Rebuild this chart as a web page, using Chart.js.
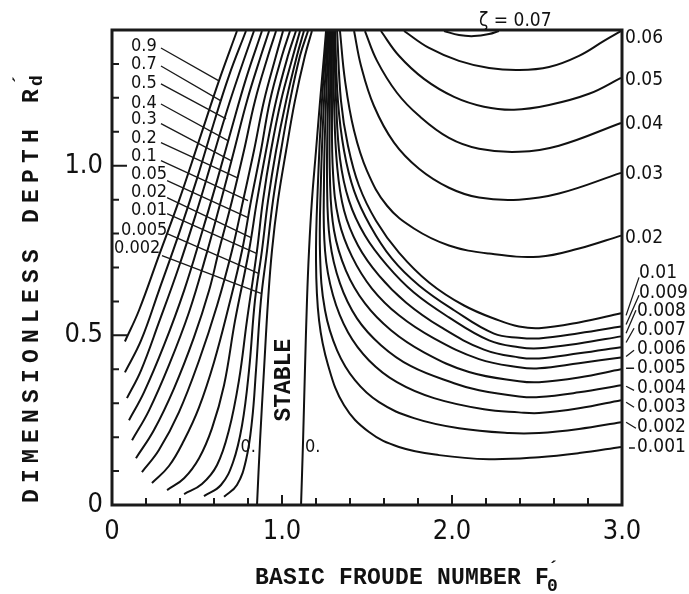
<!DOCTYPE html>
<html>
<head>
<meta charset="utf-8">
<script src="https://cdn.jsdelivr.net/npm/chart.js@4.4.1/dist/chart.umd.min.js"></script>
<style>
  html, body { margin: 0; padding: 0; background: #fff; }
</style>
</head>
<body>
<canvas id="chart" width="689" height="594"></canvas>
<script>
// axis ticks
const xTickValues = [0, 1, 2, 3];
const xTickLabels = ['0', '1.0', '2.0', '3.0'];
const yTickValues = [0, 0.5, 1.0];
const yTickLabels = ['0', '0.5', '1.0'];
const xTickMarks = [0.2, 0.4, 0.6, 0.8, 1.0, 1.2, 1.4, 1.6, 1.8, 2.0, 2.2, 2.4, 2.6, 2.8];
const xMajorMarks = [1.0, 2.0];
const yTickMarks = [0.1, 0.2, 0.3, 0.4, 0.5, 0.6, 0.7, 0.8, 0.9, 1.0, 1.1, 1.2, 1.3];
const yMajorMarks = [0.5, 1.0];

// contour lines, [F0', Rd'] pairs
// left unstable branch
const left_0_9 = [[0.076,0.482],[0.159,0.574],[0.276,0.735],[0.394,0.897],[0.512,1.074],[0.629,1.25],[0.735,1.397]];
const left_0_7 = [[0.076,0.391],[0.171,0.485],[0.276,0.632],[0.394,0.8],[0.5,0.962],[0.594,1.118],[0.688,1.265],[0.788,1.397]];
const left_0_5 = [[0.088,0.315],[0.171,0.397],[0.276,0.538],[0.394,0.703],[0.5,0.868],[0.588,1.015],[0.676,1.162],[0.753,1.279],[0.835,1.397]];
const left_0_4 = [[0.1,0.25],[0.188,0.332],[0.306,0.471],[0.424,0.632],[0.529,0.803],[0.618,0.956],[0.7,1.103],[0.788,1.256],[0.882,1.397]];
const left_0_3 = [[0.118,0.191],[0.218,0.279],[0.335,0.412],[0.453,0.568],[0.553,0.735],[0.641,0.897],[0.718,1.044],[0.794,1.191],[0.876,1.324],[0.924,1.397]];
const left_0_2 = [[0.141,0.138],[0.247,0.221],[0.365,0.344],[0.482,0.494],[0.571,0.632],[0.629,0.75],[0.706,0.897],[0.776,1.044],[0.841,1.191],[0.918,1.324],[0.965,1.397]];
const left_0_1 = [[0.176,0.097],[0.276,0.162],[0.394,0.274],[0.512,0.426],[0.618,0.588],[0.706,0.75],[0.771,0.897],[0.835,1.044],[0.894,1.191],[0.965,1.324],[1.006,1.397]];
const left_0_05 = [[0.235,0.065],[0.335,0.115],[0.424,0.191],[0.512,0.288],[0.6,0.421],[0.688,0.588],[0.765,0.75],[0.818,0.897],[0.876,1.044],[0.929,1.191],[1.0,1.324],[1.047,1.397]];
const left_0_02 = [[0.324,0.044],[0.424,0.079],[0.512,0.138],[0.588,0.226],[0.659,0.353],[0.724,0.544],[0.806,0.75],[0.853,0.897],[0.906,1.044],[0.965,1.191],[1.035,1.324],[1.082,1.397]];
const left_0_01 = [[0.424,0.032],[0.529,0.062],[0.618,0.118],[0.688,0.221],[0.747,0.368],[0.794,0.544],[0.853,0.75],[0.888,0.897],[0.935,1.044],[0.994,1.191],[1.065,1.324],[1.106,1.397]];
const left_0_005 = [[0.541,0.026],[0.641,0.059],[0.712,0.126],[0.765,0.235],[0.806,0.397],[0.841,0.603],[0.882,0.75],[0.918,0.897],[0.965,1.044],[1.024,1.191],[1.088,1.324],[1.129,1.397]];
const left_0_002 = [[0.659,0.024],[0.735,0.059],[0.788,0.132],[0.824,0.25],[0.847,0.397],[0.876,0.603],[0.912,0.75],[0.947,0.897],[0.994,1.044],[1.047,1.191],[1.106,1.324],[1.153,1.397]];
const left_0 = [[0.853,0],[0.871,0.191],[0.894,0.397],[0.918,0.603],[0.941,0.75],[0.976,0.897],[1.024,1.044],[1.076,1.191],[1.135,1.324],[1.176,1.397]];

// right unstable branch
const right_0 = [[1.112,0],[1.124,0.191],[1.135,0.397],[1.147,0.603],[1.159,0.75],[1.176,0.897],[1.2,1.044],[1.224,1.191],[1.247,1.324],[1.259,1.397]];
const right_0_001 = [[1.265,1.397],[1.235,1.191],[1.212,0.956],[1.2,0.721],[1.218,0.544],[1.271,0.412],[1.365,0.294],[1.512,0.215],[1.688,0.171],[1.924,0.147],[2.218,0.135],[2.512,0.141],[2.747,0.153],[2.994,0.171]];
const right_0_002 = [[1.271,1.397],[1.247,1.191],[1.229,0.956],[1.224,0.735],[1.253,0.574],[1.324,0.456],[1.429,0.368],[1.571,0.303],[1.776,0.256],[2.041,0.226],[2.335,0.212],[2.512,0.212],[2.747,0.224],[2.994,0.244]];
const right_0_003 = [[1.276,1.397],[1.259,1.191],[1.247,0.956],[1.253,0.75],[1.3,0.618],[1.388,0.509],[1.512,0.426],[1.676,0.362],[1.894,0.315],[2.188,0.282],[2.394,0.273],[2.512,0.271],[2.747,0.285],[2.994,0.309]];
const right_0_004 = [[1.282,1.397],[1.271,1.191],[1.265,0.956],[1.282,0.779],[1.341,0.653],[1.441,0.55],[1.582,0.471],[1.759,0.409],[2.012,0.359],[2.159,0.338],[2.394,0.32],[2.512,0.318],[2.747,0.332],[2.994,0.353]];
const right_0_005 = [[1.288,1.397],[1.282,1.191],[1.282,0.962],[1.306,0.809],[1.376,0.691],[1.488,0.594],[1.641,0.515],[1.835,0.45],[2.1,0.392],[2.394,0.365],[2.512,0.362],[2.747,0.376],[2.994,0.4]];
const right_0_006 = [[1.294,1.397],[1.294,1.191],[1.3,0.979],[1.335,0.838],[1.412,0.732],[1.529,0.638],[1.688,0.559],[1.894,0.491],[2.159,0.43],[2.394,0.406],[2.512,0.403],[2.747,0.418],[2.994,0.435]];
const right_0_007 = [[1.3,1.397],[1.306,1.191],[1.324,1.0],[1.365,0.868],[1.447,0.765],[1.571,0.676],[1.729,0.597],[1.935,0.524],[2.188,0.458],[2.394,0.435],[2.512,0.432],[2.747,0.447],[2.994,0.465]];
const right_0_008 = [[1.306,1.397],[1.318,1.191],[1.341,1.021],[1.394,0.897],[1.488,0.794],[1.618,0.706],[1.776,0.626],[1.982,0.553],[2.218,0.485],[2.394,0.465],[2.512,0.462],[2.747,0.476],[2.994,0.497]];
const right_0_009 = [[1.312,1.397],[1.329,1.191],[1.365,1.044],[1.424,0.926],[1.518,0.824],[1.647,0.726],[1.806,0.647],[2.012,0.574],[2.247,0.505],[2.394,0.493],[2.512,0.491],[2.747,0.506],[2.994,0.526]];
const right_0_01 = [[1.324,1.397],[1.347,1.191],[1.388,1.059],[1.453,0.941],[1.553,0.838],[1.688,0.744],[1.865,0.656],[2.071,0.588],[2.276,0.544],[2.394,0.526],[2.512,0.521],[2.747,0.538],[2.994,0.565]];
const right_0_02 = [[1.341,1.397],[1.371,1.25],[1.424,1.103],[1.5,0.985],[1.618,0.882],[1.776,0.815],[1.982,0.765],[2.218,0.741],[2.512,0.732],[2.747,0.756],[2.994,0.794]];
const right_0_03 = [[1.424,1.397],[1.465,1.294],[1.541,1.176],[1.659,1.068],[1.806,0.991],[1.982,0.935],[2.159,0.906],[2.394,0.9],[2.629,0.918],[2.994,0.979]];
const right_0_04 = [[1.488,1.397],[1.559,1.309],[1.676,1.215],[1.806,1.147],[1.982,1.082],[2.159,1.05],[2.394,1.041],[2.629,1.059],[2.994,1.126]];
const right_0_05 = [[1.582,1.397],[1.688,1.324],[1.835,1.256],[2.012,1.203],[2.188,1.174],[2.365,1.165],[2.571,1.179],[2.806,1.212],[2.994,1.259]];
const right_0_06 = [[1.718,1.397],[1.865,1.347],[2.041,1.309],[2.218,1.288],[2.394,1.282],[2.571,1.291],[2.747,1.324],[2.894,1.368],[2.994,1.397]];
const right_0_07 = [[1.953,1.397],[2.041,1.385],[2.129,1.382],[2.218,1.388],[2.276,1.397]];

const leftCurves = [left_0_9, left_0_7, left_0_5, left_0_4, left_0_3, left_0_2, left_0_1,
  left_0_05, left_0_02, left_0_01, left_0_005, left_0_002, left_0];
const rightCurves = [right_0, right_0_001, right_0_002, right_0_003, right_0_004, right_0_005,
  right_0_006, right_0_007, right_0_008, right_0_009, right_0_01, right_0_02, right_0_03,
  right_0_04, right_0_05, right_0_06, right_0_07];

// level labels
const leftLabels = ['0.9', '0.7', '0.5', '0.4', '0.3', '0.2', '0.1', '0.05', '0.02', '0.01', '0.005', '0.002'];
const rightLabels = ['0.06', '0.05', '0.04', '0.03', '0.02', '0.01', '0.009', '0.008', '0.007',
  '0.006', '0.005', '0.004', '0.003', '0.002', '0.001'];

// where the labels and their leader lines sit (in axis units)
const leftLabelAt = [[0.112,1.353],[0.112,1.3],[0.112,1.244],[0.112,1.185],[0.112,1.138],[0.112,1.082],
  [0.112,1.029],[0.112,0.976],[0.112,0.921],[0.112,0.868],[0.053,0.809],[0.012,0.756]];
const leftLeaders = [[0.288,1.347,0.629,1.25],[0.288,1.294,0.641,1.191],[0.288,1.241,0.671,1.138],
  [0.288,1.182,0.682,1.074],[0.288,1.124,0.7,1.015],[0.288,1.068,0.735,0.965],[0.288,1.015,0.8,0.897],
  [0.324,0.956,0.8,0.847],[0.324,0.906,0.818,0.788],[0.324,0.859,0.853,0.741],[0.324,0.8,0.865,0.682],
  [0.294,0.735,0.876,0.624]];
const rightLabelAt = [[3.018,1.376],[3.018,1.253],[3.018,1.124],[3.018,0.976],[3.018,0.788],[3.1,0.685],
  [3.1,0.626],[3.088,0.571],[3.088,0.515],[3.088,0.459],[3.088,0.403],[3.088,0.344],[3.088,0.288],
  [3.088,0.229],[3.088,0.171]];
const rightLeaders = [[3.1,0.671,3.024,0.559],[3.1,0.618,3.024,0.532],[3.082,0.574,3.024,0.506],
  [3.071,0.521,3.024,0.479],[3.071,0.456,3.024,0.438],[3.071,0.403,3.024,0.403],[3.071,0.338,3.024,0.35],
  [3.071,0.288,3.024,0.303],[3.082,0.226,3.024,0.244],[3.076,0.168,3.041,0.168]];

var datasets = [];
leftCurves.concat(rightCurves).forEach(function(c) {
  datasets.push({
    data: c.map(function(p) { return {x: p[0], y: p[1]}; }),
    showLine: true,
    borderColor: '#111',
    borderWidth: 2,
    pointRadius: 0,
    tension: 0.4,
    fill: false
  });
});

const numFont = '"DejaVu Sans Condensed", "DejaVu Sans", sans-serif';
const typeFont = '"Liberation Mono", "DejaVu Sans Mono", monospace';

// draws one string letter by letter with a fixed pitch
function spaced(ctx, text, x0, y0, pitch) {
  for (var i = 0; i < text.length; i++) ctx.fillText(text[i], x0 + i * pitch, y0);
  return x0 + text.length * pitch;
}

const extras = {
  id: 'extras',
  afterDatasetsDraw: function(chart) {
    var ctx = chart.ctx, a = chart.chartArea;
    var sx = chart.scales.x, sy = chart.scales.y;
    var px = function(v) { return sx.getPixelForValue(v); };
    var py = function(v) { return sy.getPixelForValue(v); };
    ctx.save();

    // frame
    ctx.strokeStyle = '#1a1a1a';
    ctx.lineWidth = 3;
    ctx.strokeRect(a.left, a.top, a.right - a.left, a.bottom - a.top);

    // inward ticks
    ctx.lineWidth = 2;
    ctx.beginPath();
    xTickMarks.forEach(function(v) {
      var len = xMajorMarks.indexOf(v) >= 0 ? 10 : 7;
      ctx.moveTo(px(v), a.bottom); ctx.lineTo(px(v), a.bottom - len);
    });
    yTickMarks.forEach(function(v) {
      var len = yMajorMarks.indexOf(v) >= 0 ? 15 : 7;
      ctx.moveTo(a.left, py(v)); ctx.lineTo(a.left + len, py(v));
    });
    ctx.stroke();

    // leader lines
    ctx.lineWidth = 1.3;
    ctx.beginPath();
    leftLeaders.concat(rightLeaders).forEach(function(l) {
      ctx.moveTo(px(l[0]), py(l[1])); ctx.lineTo(px(l[2]), py(l[3]));
    });
    ctx.stroke();

    // level labels
    ctx.fillStyle = '#111';
    ctx.textBaseline = 'middle';
    ctx.textAlign = 'left';
    ctx.font = '18px ' + numFont;
    leftLabels.forEach(function(t, i) {
      ctx.fillText(t, px(leftLabelAt[i][0]), py(leftLabelAt[i][1]));
    });
    ctx.font = '19px ' + numFont;
    rightLabels.forEach(function(t, i) {
      ctx.fillText(t, px(rightLabelAt[i][0]), py(rightLabelAt[i][1]));
    });

    // zero-growth labels
    ctx.font = '18px ' + numFont;
    ctx.textAlign = 'right';
    ctx.fillText('0.', px(0.847), py(0.171));
    ctx.textAlign = 'left';
    ctx.fillText('0.', px(1.135), py(0.171));

    // zeta = 0.07 above the frame
    ctx.font = '19px ' + numFont;
    ctx.textBaseline = 'alphabetic';
    ctx.fillText('\u03B6 = 0.07', px(2.159), py(1.432) + 7);

    // STABLE
    ctx.font = 'bold 23px ' + typeFont;
    ctx.save();
    ctx.translate(px(1.0) + 8, py(0.368));
    ctx.rotate(-Math.PI / 2);
    ctx.textAlign = 'center';
    ctx.fillText('STABLE', 0, 0);
    ctx.restore();

    // x title
    ctx.font = 'bold 23px ' + typeFont;
    ctx.textAlign = 'left';
    var xe = spaced(ctx, 'BASIC FROUDE NUMBER F', 255, 584, 14);
    ctx.font = 'bold 18px ' + typeFont;
    ctx.fillText('0', xe - 2, 591);
    ctx.fillText('\u00B4', xe - 1, 574);

    // y title
    ctx.save();
    ctx.translate(38, 503);
    ctx.rotate(-Math.PI / 2);
    ctx.font = 'bold 23px ' + typeFont;
    var ye = spaced(ctx, 'DIMENSIONLESS DEPTH R', 0, 0, 20);
    ctx.font = 'bold 18px ' + typeFont;
    ctx.fillText('d', ye - 3, 4);
    ctx.fillText('\u00B4', ye - 2, -12);
    ctx.restore();

    ctx.restore();
  }
};

new Chart(document.getElementById('chart'), {
  type: 'scatter',
  data: { datasets: datasets },
  options: {
    responsive: false,
    animation: false,
    events: [],
    layout: { padding: { left: 0, right: 67, top: 30, bottom: 0 } },
    plugins: { legend: { display: false }, tooltip: { enabled: false } },
    scales: {
      x: {
        type: 'linear', min: 0, max: 3,
        grid: { display: false, drawTicks: false },
        border: { display: false },
        afterBuildTicks: function(s) { s.ticks = xTickValues.map(function(v) { return {value: v}; }); },
        afterFit: function(s) { s.height = 89; },
        ticks: {
          autoSkip: false, maxRotation: 0, padding: 11, color: '#111',
          font: { family: numFont, size: 27 },
          callback: function(v, i) { return xTickLabels[i]; }
        }
      },
      y: {
        type: 'linear', min: 0, max: 1.4,
        grid: { display: false, drawTicks: false },
        border: { display: false },
        afterBuildTicks: function(s) { s.ticks = yTickValues.map(function(v) { return {value: v}; }); },
        afterFit: function(s) { s.width = 112; },
        ticks: {
          autoSkip: false, padding: 9, color: '#111',
          font: { family: numFont, size: 27 },
          callback: function(v, i) { return yTickLabels[i]; }
        }
      }
    }
  },
  plugins: [extras]
});
</script>
</body>
</html>
